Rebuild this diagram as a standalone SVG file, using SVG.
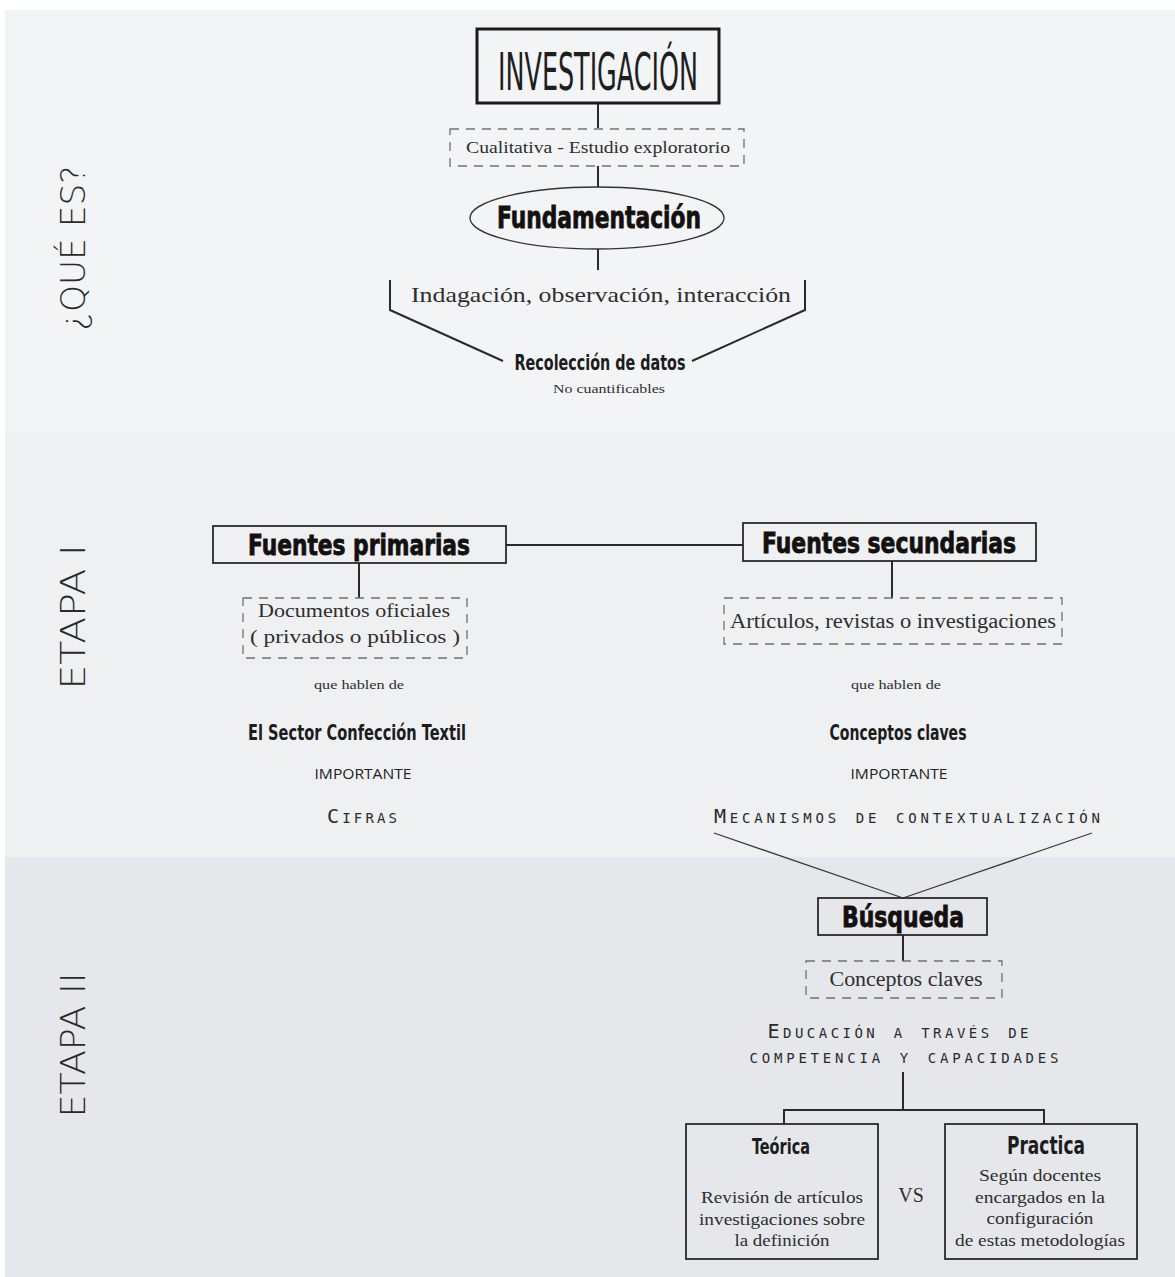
<svg xmlns="http://www.w3.org/2000/svg" width="1175" height="1277" viewBox="0 0 1175 1277">
<style>
.conn{stroke:#2a2a2a;stroke-width:2;fill:none}
.thin{stroke:#3a3a3a;stroke-width:1.3;fill:none}
.box{fill:none;stroke:#2a2a2a;stroke-width:1.8}
.dash{fill:none;stroke:#707070;stroke-width:1.3;stroke-dasharray:9 7}
.serif{font-family:"Liberation Serif","DejaVu Serif",serif;fill:#2e2e2e;text-anchor:middle}
.bold{font-family:"Liberation Sans Narrow","DejaVu Sans Condensed","DejaVu Sans",sans-serif;font-weight:bold;fill:#141010;stroke:#141010;stroke-width:0.8;text-anchor:middle}
.hand{font-family:"DejaVu Sans Condensed","DejaVu Sans",sans-serif;font-weight:600;fill:#1c1c1c;text-anchor:middle}
.mono{font-family:"DejaVu Sans Mono","Liberation Mono",monospace;fill:#2a2a2a;text-anchor:middle;font-variant:small-caps}
.side{font-family:"DejaVu Sans",sans-serif;font-weight:200;fill:#2a2a2a;text-anchor:middle;font-size:34px}
.sans{font-family:"Open Sans","Liberation Sans",sans-serif;fill:#222;text-anchor:middle;font-size:15px}
</style>
<rect x="0" y="0" width="1175" height="1277" fill="#ffffff"/>
<rect x="5" y="10" width="1170" height="422" fill="#f3f4f6"/>
<rect x="5" y="432" width="1170" height="425" fill="#eff0f2"/>
<rect x="5" y="857" width="1170" height="420" fill="#e6e7ea"/>

<g id="labels">
<text class="side" transform="translate(85,248) rotate(-90)" textLength="165" lengthAdjust="spacingAndGlyphs">¿QUÉ ES?</text>
<text class="side" transform="translate(85,617) rotate(-90)" textLength="145" lengthAdjust="spacingAndGlyphs">ETAPA I</text>
<text class="side" transform="translate(85,1045) rotate(-90)" textLength="145" lengthAdjust="spacingAndGlyphs">ETAPA II</text>
</g>

<g id="connectors">
<line class="conn" x1="598" y1="103" x2="598" y2="128"/>
<line class="conn" x1="598" y1="166" x2="598" y2="187"/>
<line class="conn" x1="598" y1="249" x2="598" y2="270"/>
<polyline class="conn" points="390,280 390,310 503,361"/>
<polyline class="conn" points="805,280 805,310 692,361"/>
<line class="conn" x1="506" y1="545" x2="743" y2="545"/>
<line class="conn" x1="359" y1="563" x2="359" y2="598"/>
<line class="conn" x1="892" y1="561" x2="892" y2="598"/>
<line class="thin" x1="714" y1="833" x2="903" y2="898"/>
<line class="thin" x1="1092" y1="833" x2="903" y2="898"/>
<line class="conn" x1="903" y1="935" x2="903" y2="961"/>
<line class="conn" x1="903" y1="1072" x2="903" y2="1110"/>
<polyline class="conn" points="784,1124 784,1110 1044,1110 1044,1124"/>
</g>

<g id="investigacion">
<rect x="477" y="29" width="242" height="74" fill="none" stroke="#1e1a1a" stroke-width="3"/>
<text x="598" y="90" font-family="DejaVu Sans Condensed, DejaVu Sans, sans-serif" font-weight="200" font-size="52" fill="#1e1e1e" text-anchor="middle" textLength="200" lengthAdjust="spacingAndGlyphs">INVESTIGACIÓN</text>
</g>

<g id="cualitativa">
<rect class="dash" x="450" y="129" width="294" height="37"/>
<text class="serif" x="598" y="153" font-size="17" textLength="264" lengthAdjust="spacingAndGlyphs">Cualitativa - Estudio exploratorio</text>
</g>

<g id="fundamentacion">
<ellipse cx="597" cy="218" rx="127" ry="31" fill="none" stroke="#333" stroke-width="1.3"/>
<text class="bold" x="599" y="228" font-size="31" textLength="204" lengthAdjust="spacingAndGlyphs">Fundamentación</text>
</g>

<g id="indagacion">
<text class="serif" x="601" y="302" font-size="22" textLength="380" lengthAdjust="spacingAndGlyphs">Indagación, observación, interacción</text>
</g>

<g id="recoleccion">
<text class="hand" x="600" y="370" font-size="22" textLength="171" lengthAdjust="spacingAndGlyphs">Recolección de datos</text>
<text class="serif" x="609" y="393" font-size="13" textLength="112" lengthAdjust="spacingAndGlyphs">No cuantificables</text>
</g>

<g id="fuentes-primarias">
<rect class="box" x="213" y="526" width="293" height="37"/>
<text class="bold" x="359" y="555" font-size="29" textLength="222" lengthAdjust="spacingAndGlyphs">Fuentes primarias</text>
</g>

<g id="fuentes-secundarias">
<rect class="box" x="743" y="523" width="293" height="38"/>
<text class="bold" x="889" y="553" font-size="29" textLength="254" lengthAdjust="spacingAndGlyphs">Fuentes secundarias</text>
</g>

<g id="documentos">
<rect class="dash" x="243" y="598" width="224" height="60"/>
<text class="serif" x="354" y="617" font-size="19" textLength="192" lengthAdjust="spacingAndGlyphs">Documentos oficiales</text>
<text class="serif" x="355" y="643" font-size="19" textLength="210" lengthAdjust="spacingAndGlyphs">( privados o públicos )</text>
</g>

<g id="articulos">
<rect class="dash" x="724" y="598" width="338" height="46"/>
<text class="serif" x="893" y="628" font-size="20" textLength="326" lengthAdjust="spacingAndGlyphs">Artículos, revistas o investigaciones</text>
</g>

<g id="primarias-detalle">
<text class="serif" x="359" y="689" font-size="13" textLength="90" lengthAdjust="spacingAndGlyphs">que hablen de</text>
<text class="hand" x="357" y="740" font-size="22" textLength="218" lengthAdjust="spacingAndGlyphs">El Sector Confección Textil</text>
<text class="sans" x="363" y="779" textLength="97" lengthAdjust="spacingAndGlyphs">IMPORTANTE</text>
<text class="mono" x="362" y="823" font-size="20" textLength="70" lengthAdjust="spacing">Cifras</text>
</g>

<g id="secundarias-detalle">
<text class="serif" x="896" y="689" font-size="13" textLength="90" lengthAdjust="spacingAndGlyphs">que hablen de</text>
<text class="hand" x="898" y="740" font-size="22" textLength="137" lengthAdjust="spacingAndGlyphs">Conceptos claves</text>
<text class="sans" x="899" y="779" textLength="97" lengthAdjust="spacingAndGlyphs">IMPORTANTE</text>
<text class="mono" x="907" y="823" font-size="20" textLength="386" lengthAdjust="spacing">Mecanismos de contextualización</text>
</g>

<g id="busqueda">
<rect class="box" x="818" y="898" width="169" height="37"/>
<text class="bold" x="903" y="927" font-size="28" textLength="122" lengthAdjust="spacingAndGlyphs">Búsqueda</text>
</g>

<g id="conceptos-claves">
<rect class="dash" x="806" y="961" width="196" height="37"/>
<text class="serif" x="906" y="986" font-size="20" textLength="153" lengthAdjust="spacingAndGlyphs">Conceptos claves</text>
</g>

<g id="educacion">
<text class="mono" x="898" y="1038" font-size="20" textLength="261" lengthAdjust="spacing">Educación a través de</text>
<text class="mono" x="904" y="1063" font-size="20" textLength="309" lengthAdjust="spacing">competencia y capacidades</text>
</g>

<g id="teorica">
<rect class="box" x="686" y="1124" width="192" height="135"/>
<text class="hand" x="781" y="1154" font-size="22" textLength="58" lengthAdjust="spacingAndGlyphs">Teórica</text>
<text class="serif" x="782" y="1203" font-size="17" textLength="162" lengthAdjust="spacingAndGlyphs">Revisión de artículos</text>
<text class="serif" x="782" y="1225" font-size="17" textLength="166" lengthAdjust="spacingAndGlyphs">investigaciones sobre</text>
<text class="serif" x="782" y="1246" font-size="17" textLength="95" lengthAdjust="spacingAndGlyphs">la definición</text>
</g>

<g id="vs">
<text class="serif" x="911" y="1202" font-size="20">VS</text>
</g>

<g id="practica">
<rect class="box" x="945" y="1124" width="192" height="135"/>
<text class="hand" x="1046" y="1154" font-size="24" textLength="78" lengthAdjust="spacingAndGlyphs">Practica</text>
<text class="serif" x="1040" y="1181" font-size="17" textLength="122" lengthAdjust="spacingAndGlyphs">Según docentes</text>
<text class="serif" x="1040" y="1203" font-size="17" textLength="130" lengthAdjust="spacingAndGlyphs">encargados en la</text>
<text class="serif" x="1040" y="1224" font-size="17" textLength="107" lengthAdjust="spacingAndGlyphs">configuración</text>
<text class="serif" x="1040" y="1246" font-size="17" textLength="170" lengthAdjust="spacingAndGlyphs">de estas metodologías</text>
</g>
</svg>
